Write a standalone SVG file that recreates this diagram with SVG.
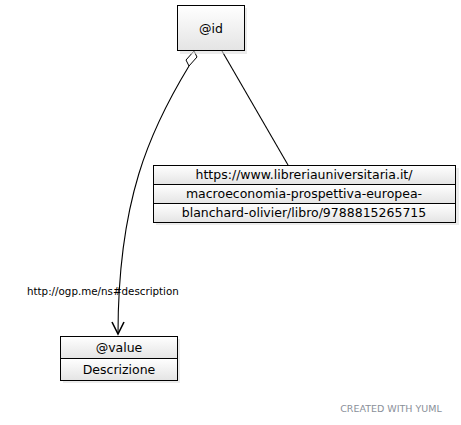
<svg xmlns="http://www.w3.org/2000/svg" width="461" height="425" viewBox="0 0 461 425">
<style>
.box{fill:url(#g);stroke:#000;stroke-width:1}
.sh{fill:#ddd;opacity:0.6}
.t{font-family:"DejaVu Sans",sans-serif;font-size:12.5px;fill:#000;text-anchor:middle}
.l{font-family:"DejaVu Sans",sans-serif;font-size:10.3px;fill:#000}
.e{fill:none;stroke:#000;stroke-width:1.1}
</style>
<defs>
<linearGradient id="g" x1="0" y1="0" x2="0" y2="1">
<stop offset="0" stop-color="#ffffff"/>
<stop offset="1" stop-color="#e4e4e4"/>
</linearGradient>
</defs>
<rect width="461" height="425" fill="#fff"/>
<g id="connectors">
<path class="e" d="M222,51 L288,165"/>
<path class="e" d="M189,66 C150,130 118,200 118,334"/>
<path d="M194,51 L197,57 L189,66 L186,60 Z" fill="#fff" stroke="#000"/>
<path d="M112,322 L118,334 L124,322" fill="none" stroke="#000" stroke-width="1.6"/>
<text class="l" x="27" y="295">http://ogp.me/ns#description</text>
</g>
<g id="node-id">
<rect class="sh" x="180" y="8" width="67" height="46"/>
<rect class="box" x="177.5" y="5.5" width="67" height="45"/>
<text class="t" x="211" y="33">@id</text>
</g>
<g id="node-url">
<rect class="sh" x="156" y="168" width="303" height="57"/>
<rect class="box" x="153.5" y="165.5" width="302" height="19"/>
<rect class="box" x="153.5" y="184.5" width="302" height="19"/>
<rect class="box" x="153.5" y="203.5" width="302" height="19"/>
<text class="t" x="304" y="179">https://www.libreriauniversitaria.it/</text>
<text class="t" x="304" y="198">macroeconomia-prospettiva-europea-</text>
<text class="t" x="304" y="217">blanchard-olivier/libro/9788815265715</text>
</g>
<g id="node-value">
<rect class="sh" x="63" y="339" width="117" height="44"/>
<rect class="box" x="60.5" y="336.5" width="117" height="22"/>
<rect class="box" x="60.5" y="358.5" width="117" height="22"/>
<text class="t" x="119" y="352">@value</text>
<text class="t" x="119" y="374">Descrizione</text>
</g>
<text x="391" y="412" font-family="DejaVu Sans,sans-serif" font-size="9.5px" fill="#8a8f99" text-anchor="middle">CREATED WITH YUML</text>
</svg>
